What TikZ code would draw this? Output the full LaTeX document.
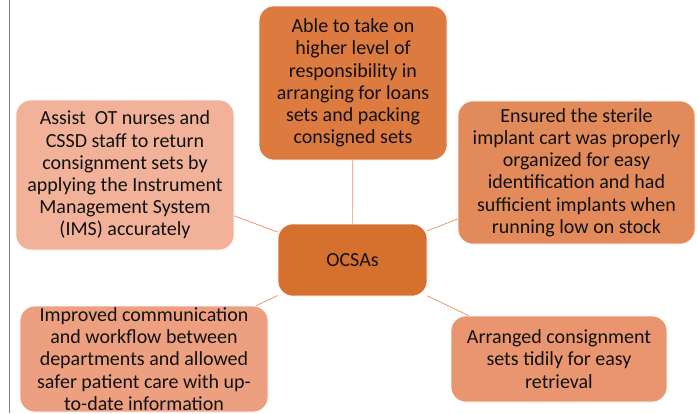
\documentclass[tikz,border=0pt]{standalone}
\usepackage{fontspec}
\setmainfont{Carlito}
\definecolor{ctop}{HTML}{DC7A40}
\definecolor{ccen}{HTML}{D6702E}
\definecolor{cright}{HTML}{E38A5A}
\definecolor{cbr}{HTML}{E99670}
\definecolor{cbl}{HTML}{EDA080}
\definecolor{cleft}{HTML}{F2B299}
\definecolor{cline}{HTML}{E98C5A}
\definecolor{ctext}{HTML}{111111}
\begin{document}
\begin{tikzpicture}[x=1pt,y=-1pt,
  box/.style={rectangle, rounded corners=15pt, draw=white, line width=0.6pt,
    inner sep=0pt, align=center, text=ctext,
    font=\fontsize{20}{22.2}\selectfont},
  link/.style={draw=cline, line width=0.7pt}]
\useasboundingbox (0,0) rectangle (697,413);
\begin{scope}
\clip (0,0) rectangle (697,413);
\draw[gray, line width=0.8pt] (9,0) -- (9,413);
\node[box, fill=ccen, minimum width=149pt, minimum height=72pt] (ocsa) at (352.5,260) {OCSAs};
\node[box, fill=ctop, minimum width=188pt, minimum height=154pt] (top) at (353,83)
  {Able to take on\\higher level of\\responsibility in\\arranging for loans\\sets and packing\\consigned sets};
\node[box, fill=cleft, minimum width=218pt, minimum height=150pt] (left) at (125,175)
  {Assist\ \ OT nurses and\\CSSD staff to return\\consignment sets by\\applying the Instrument\\Management System\\(IMS) accurately};
\node[box, fill=cright, minimum width=237pt, minimum height=143pt] (right) at (576.5,172.5)
  {Ensured the sterile\\implant cart was properly\\organized for easy\\identification and had\\sufficient implants when\\running low on stock};
\node[box, fill=cbl, minimum width=248pt, minimum height=106pt] (bl) at (144,359)
  {Improved communication\\and workflow between\\departments and allowed\\safer patient care with up-\\to-date information};
\node[box, fill=cbr, minimum width=216pt, minimum height=86pt] (br) at (559,359)
  {Arranged consignment\\sets tidily for easy\\retrieval};
\draw[link] (top) -- (ocsa);
\draw[link] (left) -- (ocsa);
\draw[link] (right) -- (ocsa);
\draw[link] (bl) -- (ocsa);
\draw[link] (br) -- (ocsa);
\end{scope}
\end{tikzpicture}
\end{document}
